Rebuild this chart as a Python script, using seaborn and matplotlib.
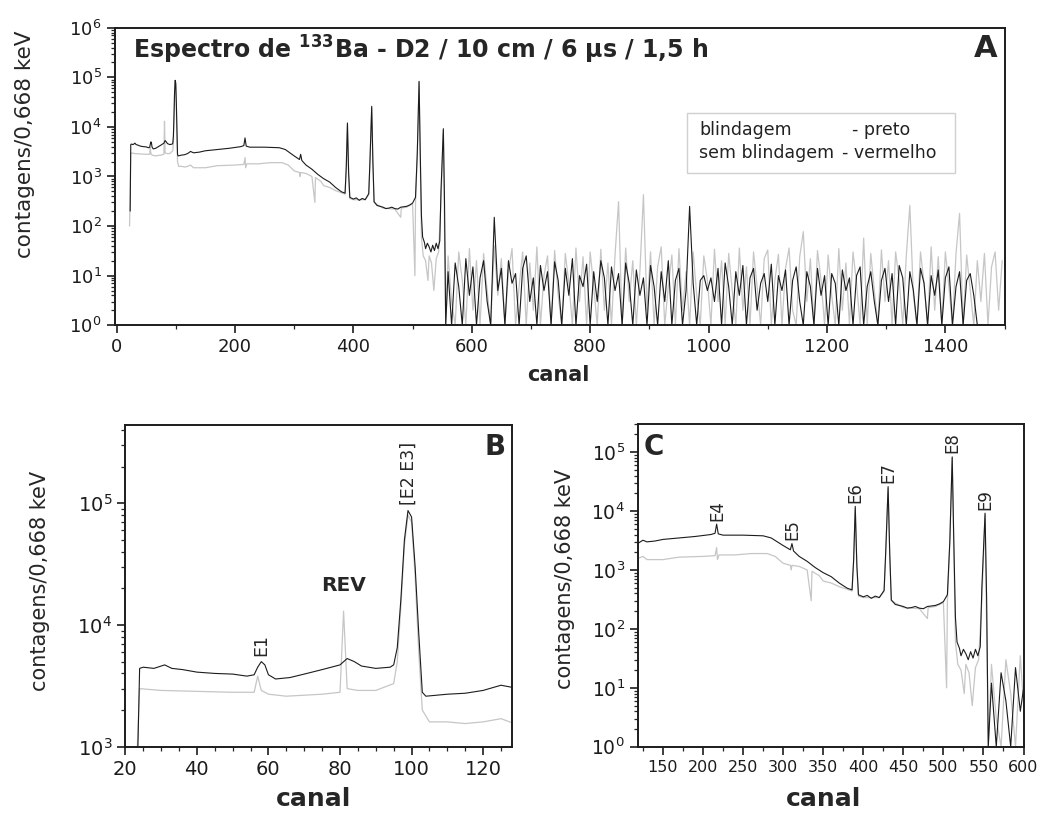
import numpy as np
import pandas as pd
import matplotlib
matplotlib.use("Agg")
import matplotlib.pyplot as plt
import matplotlib.ticker as mticker
from matplotlib.patches import Rectangle
import seaborn as sns

# ── spectrum with shielding (black trace) ─────────────────────────────────────
preto_ch = [23, 24, 25, 28, 31, 33, 36, 40, 45, 50, 54, 56, 57, 58, 59, 60, 62, 66,
            70, 75, 80, 82, 84, 86, 90, 94, 95, 96, 97, 98, 99, 100, 101, 102, 103,
            104, 110, 115, 120, 125, 130, 140, 150, 170, 190, 210, 215, 217, 219,
            225, 250, 275, 285, 300, 309, 311, 313, 320, 330, 340, 350, 360, 370,
            380, 386, 388, 390, 392, 394, 400, 405, 410, 415, 420, 426, 428, 431,
            433, 435, 440, 445, 450, 455, 460, 465, 470, 475, 480, 485, 490, 495,
            500, 505, 508, 511, 513, 515, 517, 520, 522, 525, 528, 531, 534, 537,
            540, 543, 546, 548, 552, 554, 556]
preto_cts = [200, 4400, 4500, 4400, 4700, 4400, 4300, 4100, 4000, 3950, 3800, 3900,
             4500, 5000, 4700, 3900, 3600, 3700, 3950, 4300, 4700, 5300, 5000, 4600,
             4400, 4500, 4700, 6500, 16000, 50000, 87000, 77000, 30000, 8600, 2800,
             2600, 2700, 2750, 2900, 3200, 3000, 3100, 3300, 3500, 3700, 4000, 4200,
             6000, 4100, 3900, 3900, 3800, 3500, 2600, 2200, 2800, 2100, 1700, 1400,
             1100, 900, 770, 600, 490, 460, 1500, 12000, 1200, 380, 350, 370, 330,
             360, 340, 450, 2000, 26000, 2000, 310, 260, 250, 240, 225, 230, 240,
             225, 220, 240, 245, 250, 265, 290, 380, 3000, 83000, 3000, 160, 60, 47,
             35, 45, 38, 30, 41, 32, 45, 35, 50, 500, 9200, 300, 1]

# ── spectrum without shielding (grey trace, "vermelho" in the original) ─────
verm_ch = [22, 24, 30, 40, 50, 56, 57, 58, 60, 65, 70, 75, 80, 81, 82, 85, 90, 95,
           96, 97, 98, 99, 100, 101, 102, 103, 105, 110, 115, 120, 125, 130, 150,
           170, 200, 215, 217, 218, 220, 240, 260, 280, 290, 300, 309, 310, 311,
           320, 330, 335, 336, 345, 350, 360, 370, 380, 386, 388, 390, 392, 394,
           400, 420, 426, 428, 431, 433, 435, 450, 470, 480, 481, 490, 500, 504,
           505, 508, 511, 513, 515, 518, 522, 526, 528, 532, 536, 540, 544, 548,
           552, 554, 556]
verm_cts = [100, 3000, 2900, 2850, 2800, 2800, 3800, 2900, 2700, 2600, 2650, 2700,
            2800, 13000, 3000, 2900, 2900, 3300, 5000, 14000, 45000, 80000, 70000,
            25000, 6000, 2000, 1600, 1600, 1550, 1600, 1700, 1500, 1500, 1650, 1700,
            1750, 2400, 1500, 1800, 1800, 1900, 1900, 1700, 1300, 1200, 1000, 1200,
            1150, 1000, 300, 950, 800, 650, 600, 520, 470, 440, 1400, 11000, 1100,
            360, 340, 340, 430, 1800, 24000, 1800, 300, 230, 220, 150, 230, 240,
            280, 10, 300, 2800, 80000, 2500, 60, 25, 20, 8, 25, 18, 5, 22, 30, 300,
            8500, 100, 1]

# ── noisy tail above channel 556 (one reading every 6 channels) ──────────────
ruido_ch = list(range(560, 1500, 6))
ruido_preto = [12, 1, 18, 6, 1, 22, 4, 15, 1, 9,
               20, 3, 1, 150, 5, 14, 1, 20, 7, 11,
               1, 14, 25, 3, 9, 1, 16, 5, 12, 1,
               19, 8, 1, 14, 4, 22, 1, 10, 6, 17,
               1, 12, 3, 20, 9, 1, 15, 5, 11, 1,
               18, 7, 1, 13, 4, 9, 1, 16, 6, 1,
               12, 3, 20, 1, 8, 14, 1, 5, 250, 7,
               1, 8, 10, 5, 9, 3, 14, 1, 18, 6,
               1, 12, 4, 16, 1, 9, 14, 2, 7, 11,
               3, 17, 1, 10, 5, 13, 1, 8, 15, 3,
               1, 12, 6, 1, 14, 4, 10, 1, 11, 7,
               1, 13, 5, 9, 1, 10, 15, 1, 6, 12,
               3, 1, 8, 14, 3, 11, 1, 16, 9, 1,
               12, 5, 1, 14, 7, 1, 10, 4, 13, 1,
               9, 15, 1, 6, 12, 1, 8, 11, 4, 1,
               1, 1, 1, 1, 1, 1, 1]
ruido_verm = [25, 3, 1, 30, 8, 1, 35, 2, 20, 1,
              28, 5, 1, 40, 4, 22, 1, 12, 35, 1,
              6, 30, 1, 18, 2, 38, 1, 10, 25, 1,
              32, 4, 1, 28, 7, 1, 36, 3, 24, 1,
              30, 6, 1, 34, 2, 18, 1, 26, 310, 1,
              36, 3, 20, 1, 12, 430, 2, 30, 1, 15,
              38, 1, 6, 26, 1, 35, 2, 12, 1, 30,
              4, 1, 25, 8, 1, 34, 3, 20, 1, 28,
              5, 1, 36, 2, 15, 1, 30, 6, 1, 22,
              33, 1, 8, 27, 1, 14, 36, 2, 1, 24,
              77, 3, 22, 1, 32, 8, 1, 26, 4, 1,
              35, 2, 18, 1, 30, 7, 1, 57, 1, 28,
              5, 1, 33, 3, 20, 1, 30, 8, 1, 25,
              260, 4, 1, 30, 7, 1, 38, 2, 24, 1,
              30, 6, 1, 28, 180, 1, 26, 5, 1, 20,
              3, 28, 1, 15, 30, 2, 20]

picos_B = {"E1": (58, 5000), "[E2 E3]": (99.3, 87000)}
picos_C = {"E4": (218, 6000), "E5": (311, 2800), "E6": (390, 12000),
           "E7": (431, 26000), "E8": (511, 83000), "E9": (552, 9200)}

preto = pd.DataFrame({"canal": preto_ch + ruido_ch, "contagens": preto_cts + ruido_preto})
verm = pd.DataFrame({"canal": verm_ch + ruido_ch, "contagens": verm_cts + ruido_verm})

sns.set_style("ticks")
plt.rcParams["font.family"] = ["DejaVu Sans"]
plt.rcParams["axes.linewidth"] = 1.4

GREY = "#c6c6c6"
BLACK = "#1c1c1c"

fig = plt.figure(figsize=(10.53, 8.17), dpi=100)
axA = fig.add_axes([0.109, 0.602, 0.845, 0.364])
axB = fig.add_axes([0.119, 0.086, 0.367, 0.394])
axC = fig.add_axes([0.606, 0.086, 0.366, 0.395])


def draw(ax):
    sns.lineplot(data=verm, x="canal", y="contagens", ax=ax, color=GREY,
                 linewidth=0.9, estimator=None, sort=False)
    sns.lineplot(data=preto, x="canal", y="contagens", ax=ax, color=BLACK,
                 linewidth=0.8, estimator=None, sort=False)
    ax.set_yscale("log")
    ax.yaxis.set_major_locator(mticker.LogLocator(base=10, numticks=10))
    ax.yaxis.set_minor_locator(mticker.LogLocator(base=10, subs=np.arange(2, 10), numticks=20))
    ax.yaxis.set_minor_formatter(mticker.NullFormatter())
    ax.tick_params(which="major", direction="out", length=6, width=1.2, colors=BLACK)
    ax.tick_params(which="minor", direction="out", length=3, width=0.9)
    for s in ax.spines.values():
        s.set_visible(True)
        s.set_color(BLACK)


# ── A: full spectrum ─────────────────────────────────────────────────────────
draw(axA)
axA.set_xlim(-3, 1500)
axA.set_ylim(1, 1e6)
axA.xaxis.set_major_locator(mticker.MultipleLocator(200))
axA.xaxis.set_minor_locator(mticker.MultipleLocator(100))
axA.tick_params(axis="both", which="major", labelsize=13)
axA.set_xlabel("canal", fontsize=15, fontweight="bold")
axA.set_ylabel("contagens/0,668 keV", fontsize=15.5)
axA.xaxis.set_label_coords(0.498, -0.135)
axA.yaxis.set_label_coords(-0.09, 0.61)
axA.text(0.02, 0.895, r"Espectro de $^{\mathbf{133}}$Ba - D2 / 10 cm / 6 μs / 1,5 h",
         transform=axA.transAxes, fontsize=17, fontweight="bold", va="baseline", ha="left")
axA.text(0.992, 0.902, "A", transform=axA.transAxes, fontsize=22, fontweight="bold",
         va="baseline", ha="right")
axA.add_patch(Rectangle((0.643, 0.512), 0.301, 0.202, transform=axA.transAxes,
                        facecolor="white", edgecolor="#d0d0d0", linewidth=1.0, zorder=5))
for txt, x, y in [("blindagem", 0.657, 0.657), ("- preto", 0.829, 0.657),
                  ("sem blindagem", 0.657, 0.579), ("- vermelho", 0.817, 0.579)]:
    axA.text(x, y, txt, transform=axA.transAxes, fontsize=12.5, va="center",
             ha="left", zorder=6, color="#222222")

# ── B: low-energy region ─────────────────────────────────────────────────────
draw(axB)
axB.set_xlim(20, 128)
axB.set_ylim(1e3, 4.4e5)
axB.xaxis.set_major_locator(mticker.MultipleLocator(20))
axB.xaxis.set_minor_locator(mticker.MultipleLocator(5))
axB.tick_params(axis="both", which="major", labelsize=14)
axB.set_xlabel("canal", fontsize=18, fontweight="bold")
axB.set_ylabel("contagens/0,668 keV", fontsize=15)
axB.xaxis.set_label_coords(0.487, -0.125)
axB.yaxis.set_label_coords(-0.194, 0.515)
axB.text(0.985, 0.93, "B", transform=axB.transAxes, fontsize=20, fontweight="bold",
         va="center", ha="right")
for lab, (x, y) in picos_B.items():
    axB.text(x, y * 1.12, lab, rotation=90, fontsize=12.5, ha="center", va="bottom")
axB.text(81, 1.75e4, "REV", fontsize=14.5, fontweight="bold", ha="center", va="bottom")

# ── C: middle region ─────────────────────────────────────────────────────────
draw(axC)
axC.set_xlim(119, 600)
axC.set_ylim(1, 3e5)
axC.xaxis.set_major_locator(mticker.MultipleLocator(50))
axC.xaxis.set_minor_locator(mticker.MultipleLocator(25))
axC.tick_params(axis="x", which="major", labelsize=11.5)
axC.tick_params(axis="y", which="major", labelsize=13.5)
axC.set_xlabel("canal", fontsize=18, fontweight="bold")
axC.set_ylabel("contagens/0,668 keV", fontsize=15)
axC.xaxis.set_label_coords(0.48, -0.125)
axC.yaxis.set_label_coords(-0.164, 0.52)
axC.text(0.015, 0.93, "C", transform=axC.transAxes, fontsize=20, fontweight="bold",
         va="center", ha="left")
for lab, (x, y) in picos_C.items():
    axC.text(x, y * 1.15, lab, rotation=90, fontsize=12, ha="center", va="bottom")

fig.savefig("out.png", dpi=100, facecolor="white")
